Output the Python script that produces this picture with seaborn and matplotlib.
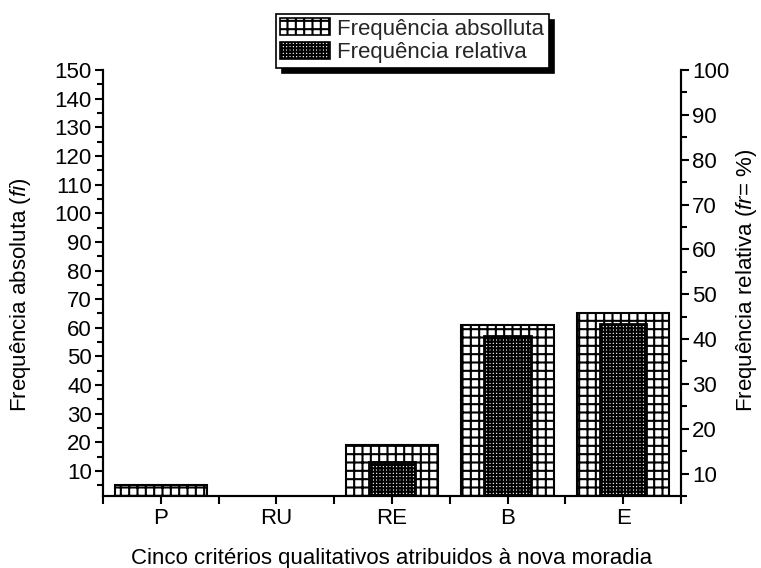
import matplotlib
matplotlib.use("Agg")
import matplotlib.pyplot as plt
import matplotlib.patches as mpatches
from matplotlib.ticker import MultipleLocator, FixedLocator
import seaborn as sns
import pandas as pd

categories = ["P", "RU", "RE", "B", "E"]
freq_abs = [5, 0, 19, 61, 65]
freq_rel = [3.33, 0, 12.67, 40.67, 43.33]
left_ticks = list(range(10, 151, 10))
right_ticks = list(range(10, 101, 10))

sns.set_theme(style="white")
plt.rcParams["font.family"] = ["Liberation Sans", "DejaVu Sans"]
plt.rcParams["mathtext.fontset"] = "custom"
plt.rcParams["mathtext.it"] = "Liberation Sans:italic"
plt.rcParams["mathtext.rm"] = "Liberation Sans"
plt.rcParams["hatch.linewidth"] = 1.5
plt.rcParams["hatch.color"] = "black"

FS = 16
df = pd.DataFrame({"cat": categories, "abs": freq_abs, "rel": freq_rel})

fig = plt.figure(figsize=(7.61, 5.68), dpi=100)
ax = fig.add_axes([0.1353, 0.1268, 0.7596, 0.75])
ax2 = ax.twinx()

sns.barplot(data=df, x="cat", y="abs", ax=ax, width=0.8, color="white",
            edgecolor="black", linewidth=1.5, saturation=1)
for p in ax.patches:
    p.set_hatch("++")
    p.set_facecolor("white")

sns.barplot(data=df, x="cat", y="rel", ax=ax2, width=0.4, color="white",
            edgecolor="black", linewidth=2.0, saturation=1)
for p in ax2.patches:
    p.set_hatch("+++++")
    p.set_facecolor("white")

ax.set_xlim(-0.5, 4.5)
ax.set_ylim(1.3, 150)
ax2.set_ylim(5, 100)

ax.yaxis.set_major_locator(FixedLocator(left_ticks))
ax.yaxis.set_minor_locator(MultipleLocator(5))
ax2.yaxis.set_major_locator(FixedLocator(right_ticks))
ax2.yaxis.set_minor_locator(MultipleLocator(5))
ax.xaxis.set_minor_locator(FixedLocator([-0.5, 0.5, 1.5, 2.5, 3.5, 4.5]))

for a in (ax, ax2):
    for s in a.spines.values():
        s.set_color("black")
        s.set_linewidth(1.5)
    a.spines["top"].set_visible(False)
    a.tick_params(which="both", direction="out", color="black", width=1.5,
                  labelsize=FS, labelcolor="black")
    a.tick_params(which="major", length=6)
    a.tick_params(which="minor", length=4)
    a.grid(False)

ax.tick_params(axis="y", which="both", left=True, right=False, pad=2)
ax2.tick_params(axis="y", which="both", right=True, left=False, pad=2)
ax.tick_params(axis="x", which="both", bottom=True, pad=3)
ax.tick_params(axis="x", which="minor", length=6)

ax.set_xlabel("Cinco critérios qualitativos atribuidos à nova moradia",
              fontsize=FS, color="black", labelpad=13)
ax.set_ylabel(r"Frequência absoluta ($\mathit{fi}$)", fontsize=FS,
              color="black")
ax2.set_ylabel(r"Frequência relativa ($\mathit{fr}$= %)", fontsize=FS,
               color="black")
ax.yaxis.set_label_coords(-0.121, 0.472)
ax2.yaxis.set_label_coords(1.0917, 0.507)

handles = [
    mpatches.Patch(facecolor="white", edgecolor="black", hatch="++", linewidth=1.2),
    mpatches.Patch(facecolor="white", edgecolor="black", hatch="+++++", linewidth=1.2),
]
leg = fig.legend(handles, ["Frequência absolluta", "Frequência relativa"],
                 loc="upper left", bbox_to_anchor=(0.3627, 0.9754),
                 bbox_transform=fig.transFigure, borderaxespad=0,
                 fontsize=FS, frameon=True, fancybox=False,
                 shadow={"color": "black", "alpha": 1, "ox": 4, "oy": -4},
                 handlelength=2.25, handleheight=0.8, handletextpad=0.3,
                 labelspacing=0.1, borderpad=0.2)
leg.get_frame().set_edgecolor("black")
leg.get_frame().set_linewidth(1.2)
leg.get_frame().set_alpha(1)

fig.savefig("out.png", dpi=100)
